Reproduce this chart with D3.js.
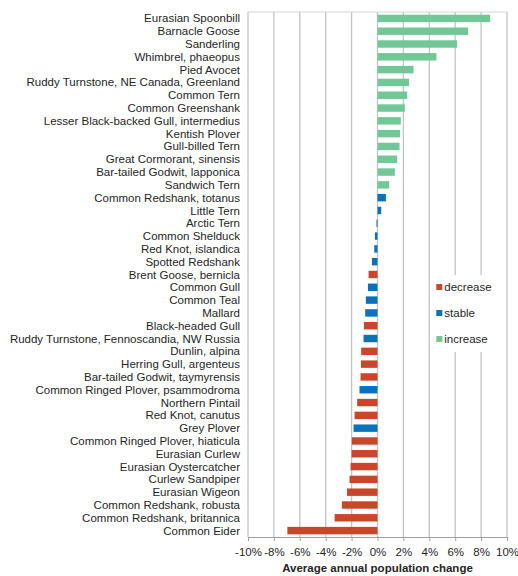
<!DOCTYPE html>
<html>
<head>
<meta charset="utf-8">
<script src="https://cdn.jsdelivr.net/npm/d3@7"></script>
<style>
  body { margin: 0; background: #fff; }
  svg { font-family: "Liberation Sans", Arial, sans-serif; }
</style>
</head>
<body>
<svg id="chart"></svg>
<script>
// Data, top to bottom as in the chart
const species = [
    'Eurasian Spoonbill', 'Barnacle Goose', 'Sanderling', 'Whimbrel, phaeopus',
    'Pied Avocet', 'Ruddy Turnstone, NE Canada, Greenland', 'Common Tern',
    'Common Greenshank', 'Lesser Black-backed Gull, intermedius', 'Kentish Plover',
    'Gull-billed Tern', 'Great Cormorant, sinensis', 'Bar-tailed Godwit, lapponica',
    'Sandwich Tern', 'Common Redshank, totanus', 'Little Tern', 'Arctic Tern',
    'Common Shelduck', 'Red Knot, islandica', 'Spotted Redshank', 'Brent Goose, bernicla',
    'Common Gull', 'Common Teal', 'Mallard', 'Black-headed Gull',
    'Ruddy Turnstone, Fennoscandia, NW Russia', 'Dunlin, alpina', 'Herring Gull, argenteus',
    'Bar-tailed Godwit, taymyrensis', 'Common Ringed Plover, psammodroma', 'Northern Pintail',
    'Red Knot, canutus', 'Grey Plover', 'Common Ringed Plover, hiaticula', 'Eurasian Curlew',
    'Eurasian Oystercatcher', 'Curlew Sandpiper', 'Eurasian Wigeon',
    'Common Redshank, robusta', 'Common Redshank, britannica', 'Common Eider'
];
const change = [
    8.7, 7.0, 6.15, 4.55, 2.78, 2.44, 2.29, 2.11, 1.8, 1.75, 1.7, 1.52, 1.34, 0.9,
    0.65, 0.29, -0.08, -0.2, -0.25, -0.43, -0.69, -0.74, -0.9, -0.95, -1.05, -1.08,
    -1.26, -1.28, -1.31, -1.39, -1.57, -1.77, -1.85, -1.98, -2.0, -2.08, -2.16,
    -2.36, -2.75, -3.31, -6.96
];
const trend = [
    'increase', 'increase', 'increase', 'increase', 'increase', 'increase', 'increase',
    'increase', 'increase', 'increase', 'increase', 'increase', 'increase', 'increase',
    'stable', 'stable', 'stable', 'stable', 'stable', 'stable', 'decrease', 'stable',
    'stable', 'stable', 'decrease', 'stable', 'decrease', 'decrease', 'decrease',
    'stable', 'decrease', 'decrease', 'stable', 'decrease', 'decrease', 'decrease',
    'decrease', 'decrease', 'decrease', 'decrease', 'decrease'
];
const legendItems = ['decrease', 'stable', 'increase'];
const xTicks = [-10, -8, -6, -4, -2, 0, 2, 4, 6, 8, 10];

const colors = { decrease: '#c8472b', stable: '#0b72b9', increase: '#72c797' };

const width = 518;
const height = 576;
const margin = { top: 12, right: 11, bottom: 39, left: 248 };
const innerW = width - margin.left - margin.right;
const innerH = height - margin.top - margin.bottom;

const svg = d3.select('#chart')
    .attr('width', width)
    .attr('height', height);

const g = svg.append('g')
    .attr('transform', `translate(${margin.left},${margin.top})`);

const x = d3.scaleLinear().domain([-10, 10]).range([0, innerW]);
const y = d3.scaleBand().domain(species).range([0, innerH]).paddingInner(0.42).paddingOuter(0.21);

// Gridlines
g.selectAll('.grid')
    .data(xTicks)
    .enter().append('line')
    .attr('x1', d => x(d)).attr('x2', d => x(d))
    .attr('y1', 0).attr('y2', innerH)
    .attr('stroke', '#c4c4c4')
    .attr('stroke-width', 1.3);

// Top border
g.append('line')
    .attr('x1', 0).attr('x2', innerW)
    .attr('y1', 0).attr('y2', 0)
    .attr('stroke', '#d4d4d4');

// Bars
const data = species.map((s, i) => ({ name: s, value: change[i], trend: trend[i] }));
g.selectAll('.bar')
    .data(data)
    .enter().append('rect')
    .attr('x', d => x(Math.min(0, d.value)))
    .attr('y', d => y(d.name))
    .attr('width', d => Math.max(1, Math.abs(x(d.value) - x(0))))
    .attr('height', y.bandwidth())
    .attr('fill', d => colors[d.trend]);

// Category labels
g.selectAll('.label')
    .data(species)
    .enter().append('text')
    .attr('x', -8)
    .attr('y', d => y(d) + y.bandwidth() / 2)
    .attr('dy', '0.35em')
    .attr('text-anchor', 'end')
    .attr('font-size', 11.5)
    .attr('fill', '#262626')
    .text(d => d);

// Bottom axis
const xAxis = g.append('g')
    .attr('transform', `translate(0,${innerH})`)
    .call(d3.axisBottom(x).tickValues(xTicks).tickSize(4).tickFormat(d => d + '%'));
xAxis.select('.domain').attr('stroke', '#a0a0a0');
xAxis.selectAll('.tick line').attr('stroke', '#a0a0a0');
xAxis.selectAll('.tick text')
    .attr('font-size', 11.5)
    .attr('fill', '#262626')
    .attr('font-family', '"Liberation Sans", Arial, sans-serif')
    .attr('dy', '1.05em');

// Axis title
svg.append('text')
    .attr('x', margin.left + innerW / 2)
    .attr('y', 572)
    .attr('text-anchor', 'middle')
    .attr('font-size', 11.5)
    .attr('font-weight', 'bold')
    .attr('fill', '#262626')
    .text('Average annual population change');

// Legend
const legend = g.append('g')
    .attr('transform', `translate(${x(4) + 2},${263})`);
legend.append('rect')
    .attr('width', x(10) - x(4) - 3)
    .attr('height', 77)
    .attr('fill', '#fff');
legendItems.forEach((k, i) => {
    const row = legend.append('g').attr('transform', `translate(5,${12 + i * 26})`);
    row.append('rect')
        .attr('x', 0).attr('y', -3)
        .attr('width', 6).attr('height', 6)
        .attr('fill', colors[k]);
    row.append('text')
        .attr('x', 8)
        .attr('dy', '0.35em')
        .attr('font-size', 11.5)
        .attr('fill', '#262626')
        .text(k);
});
</script>
</body>
</html>
